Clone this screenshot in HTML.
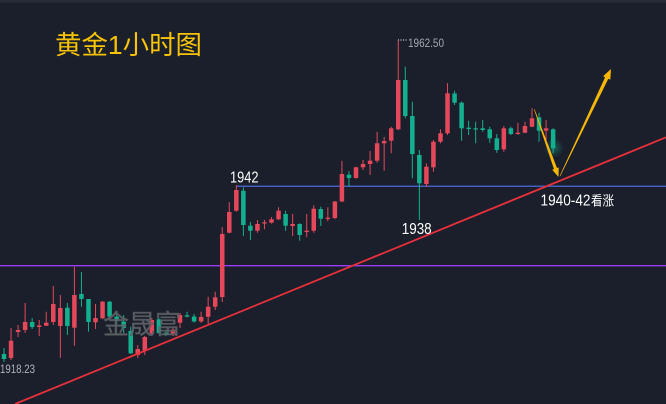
<!DOCTYPE html>
<html>
<head>
<meta charset="utf-8">
<style>
html,body{margin:0;padding:0;background:#1a1f2b;}
svg{display:block;}
text{font-family:"Liberation Sans","Noto Sans CJK SC",sans-serif;}
</style>
</head>
<body>
<svg width="666" height="404" viewBox="0 0 666 404" xmlns="http://www.w3.org/2000/svg">
<defs>
<radialGradient id="gl" cx="0.5" cy="0.5" r="0.5">
<stop offset="0" stop-color="#16c9a0" stop-opacity="0.35"/>
<stop offset="1" stop-color="#16c9a0" stop-opacity="0"/>
</radialGradient>
</defs>
<rect x="0" y="0" width="666" height="404" fill="#1a1f2b"/>
<rect x="0" y="0" width="666" height="2.5" fill="#262b36"/>

<line x1="0" y1="265.7" x2="666" y2="265.7" stroke="#9d3cf5" stroke-width="1.4"/>
<line x1="236" y1="186.2" x2="666" y2="186.2" stroke="#5473f5" stroke-width="1.2"/>

<path fill="none" stroke="#13b08f" stroke-width="1" d="M4 348V362M32.16 318V329M67.36 303V335M81.44 272V306.7M88.48 299V331.7M109.6 301V319M116.64 313V325M123.68 315V333M130.72 326.7V354M158.88 318V334M165.92 330V336M187.04 311.7V317.3M194.08 314V322.5M243.36 187.3V236M250.4 222V240M285.6 210.7V230.7M299.68 223.3V240.7M320.8 206.7V226M348.96 171.3V186.7M405.28 66.7V118.3M412.32 101.7V178.3M419.36 150V220M454.56 90.7V105M461.6 101.7V140.7M468.64 120.7V135M475.68 121.7V143.3M482.72 120V131.7M489.76 126.7V142.7M496.8 134V152.7M510.88 126.7V135M539.04 112.7V141.7M553.12 128.3V153.3"/>
<path fill="none" stroke="#e5485a" stroke-width="1" d="M11.04 328V360M18.08 325V337M25.12 303V333M39.2 320V336M46.24 311.7V326M53.28 286V325M60.32 295V358M74.4 266.7V345.7M95.52 304V329M102.56 301V319M137.76 345V358M144.8 336V355M151.84 318V336M172.96 328V336M180 313V328M201.12 311.7V322.7M208.16 296.7V325M215.2 291.7V310M222.24 227.3V302M229.28 202V233.3M236.32 185.3V211.7M257.44 220V232.7M264.48 220V229.3M271.52 217V223.5M278.56 207.3V220M292.64 214V236M306.72 214V237.3M313.76 205.3V232.7M327.84 207.3V221.3M334.88 201V219M341.92 160.7V202M356 166.7V178.5M363.04 160V170M370.08 151V175M377.12 131.7V162.7M384.16 136.7V170.7M391.2 126.7V153.3M398.24 40V130M426.4 163.3V186.7M433.44 140V171.7M440.48 129.3V143.3M447.52 83.3V135M503.84 126V151.7M517.92 122.7V135M524.96 121.7V133.3M532 108.3V127.3M546.08 120V140"/>

<circle cx="554" cy="148" r="10" fill="url(#gl)"/>

<g fill="#13b08f">
<rect x="1.75" y="354" width="4.5" height="5"/>
<rect x="29.91" y="322" width="4.5" height="5"/>
<rect x="65.11" y="307.7" width="4.5" height="18.3"/>
<rect x="79.19" y="294" width="4.5" height="5"/>
<rect x="86.23" y="299" width="4.5" height="23"/>
<rect x="107.35" y="301.7" width="4.5" height="15"/>
<rect x="114.39" y="316.7" width="4.5" height="4"/>
<rect x="121.43" y="321.7" width="4.5" height="6.3"/>
<rect x="128.47" y="331" width="4.5" height="22.3"/>
<rect x="156.63" y="319.3" width="4.5" height="13.7"/>
<rect x="163.67" y="332.7" width="4.5" height="2.3"/>
<rect x="184.79" y="315.3" width="4.5" height="1.4"/>
<rect x="191.83" y="316.5" width="4.5" height="5"/>
<rect x="241.11" y="190.7" width="4.5" height="34.3"/>
<rect x="248.15" y="225.7" width="4.5" height="5"/>
<rect x="283.35" y="214" width="4.5" height="11.7"/>
<rect x="297.43" y="224" width="4.5" height="11"/>
<rect x="318.55" y="209" width="4.5" height="9.7"/>
<rect x="346.71" y="174.7" width="4.5" height="3.3"/>
<rect x="403.03" y="80" width="4.5" height="36"/>
<rect x="410.07" y="116" width="4.5" height="38"/>
<rect x="417.11" y="155" width="4.5" height="28.3"/>
<rect x="452.31" y="93.5" width="4.5" height="9.2"/>
<rect x="459.35" y="102.7" width="4.5" height="25.6"/>
<rect x="466.39" y="127.7" width="4.5" height="1.3"/>
<rect x="473.43" y="128.3" width="4.5" height="1.2"/>
<rect x="480.47" y="128.3" width="4.5" height="1.7"/>
<rect x="487.51" y="129.3" width="4.5" height="9"/>
<rect x="494.55" y="138.3" width="4.5" height="11.7"/>
<rect x="508.63" y="128.3" width="4.5" height="5.7"/>
<rect x="536.79" y="117.3" width="4.5" height="13.4"/>
<rect x="550.87" y="129.3" width="4.5" height="19"/>
</g>

<g fill="#e5485a">
<rect x="8.79" y="340.7" width="4.5" height="17.3"/>
<rect x="15.83" y="330" width="4.5" height="2"/>
<rect x="22.87" y="322" width="4.5" height="8"/>
<rect x="36.95" y="325.5" width="4.5" height="1.5"/>
<rect x="43.99" y="322.7" width="4.5" height="3"/>
<rect x="51.03" y="304" width="4.5" height="18"/>
<rect x="58.07" y="308" width="4.5" height="18"/>
<rect x="72.15" y="295" width="4.5" height="32.7"/>
<rect x="93.27" y="318" width="4.5" height="4.3"/>
<rect x="100.31" y="301.7" width="4.5" height="16.6"/>
<rect x="135.51" y="349" width="4.5" height="6"/>
<rect x="142.55" y="337" width="4.5" height="13.7"/>
<rect x="149.59" y="320" width="4.5" height="14"/>
<rect x="170.71" y="329.5" width="4.5" height="4"/>
<rect x="177.75" y="315" width="4.5" height="7.7"/>
<rect x="198.87" y="317" width="4.5" height="4.5"/>
<rect x="205.91" y="306.7" width="4.5" height="10"/>
<rect x="212.95" y="297.3" width="4.5" height="9.4"/>
<rect x="219.99" y="234" width="4.5" height="63"/>
<rect x="227.03" y="212" width="4.5" height="20.7"/>
<rect x="234.07" y="190" width="4.5" height="20.7"/>
<rect x="255.19" y="224" width="4.5" height="6.7"/>
<rect x="262.23" y="222.3" width="4.5" height="1.2"/>
<rect x="269.27" y="219.3" width="4.5" height="3.4"/>
<rect x="276.31" y="210.7" width="4.5" height="8.6"/>
<rect x="290.39" y="224" width="4.5" height="2"/>
<rect x="304.47" y="230.7" width="4.5" height="1.3"/>
<rect x="311.51" y="208.7" width="4.5" height="22"/>
<rect x="325.59" y="217.7" width="4.5" height="1.3"/>
<rect x="332.63" y="201.5" width="4.5" height="16.5"/>
<rect x="339.67" y="174" width="4.5" height="27.5"/>
<rect x="353.75" y="167.3" width="4.5" height="10.7"/>
<rect x="360.79" y="164" width="4.5" height="3.3"/>
<rect x="367.83" y="160.7" width="4.5" height="3.3"/>
<rect x="374.87" y="143.3" width="4.5" height="17.4"/>
<rect x="381.91" y="141" width="4.5" height="2.3"/>
<rect x="388.95" y="128.3" width="4.5" height="12.4"/>
<rect x="395.99" y="80" width="4.5" height="49.3"/>
<rect x="424.15" y="166.7" width="4.5" height="17.3"/>
<rect x="431.19" y="141.7" width="4.5" height="25.6"/>
<rect x="438.23" y="133.3" width="4.5" height="8.4"/>
<rect x="445.27" y="93.3" width="4.5" height="40"/>
<rect x="501.59" y="128.3" width="4.5" height="21"/>
<rect x="515.67" y="132.7" width="4.5" height="1.3"/>
<rect x="522.71" y="126" width="4.5" height="6.7"/>
<rect x="529.75" y="118.3" width="4.5" height="8.4"/>
<rect x="543.83" y="128.3" width="4.5" height="2.4"/>
</g>

<text x="103" y="334" font-size="27" fill="#66696f" fill-opacity="0.85" stroke="#4a4d52" stroke-width="0.4" textLength="78" lengthAdjust="spacingAndGlyphs">金晟富</text>

<line x1="15" y1="404" x2="666" y2="137.3" stroke="#e8303c" stroke-width="1.8"/>

<polygon fill="#f9b800" points="534.02,109.40 553.96,169.07 552.17,169.71 558.5,177 558.77,167.35 556.98,167.99 534.58,109.20"/>
<polygon fill="#f9b800" points="560.27,176.13 608.33,78.80 610.31,79.75 611,69 603.09,76.31 605.07,77.26 559.73,175.87"/>

<line x1="398" y1="40" x2="407" y2="40" stroke="#8a8e96" stroke-width="2" stroke-dasharray="1,1.5"/>
<text x="408" y="47" font-size="11.5" fill="#a3a7ae" textLength="36" lengthAdjust="spacingAndGlyphs">1962.50</text>
<text x="0" y="373" font-size="11.5" fill="#b0b4ba" textLength="35" lengthAdjust="spacingAndGlyphs">1918.23</text>

<text x="55" y="54" font-size="26" fill="#f8c300" textLength="147" lengthAdjust="spacingAndGlyphs">黄金1小时图</text>
<text x="230" y="182.3" font-size="15.5" fill="#ffffff" textLength="28.5" lengthAdjust="spacingAndGlyphs">1942</text>
<text x="401.7" y="234" font-size="15.5" fill="#ffffff" textLength="30" lengthAdjust="spacingAndGlyphs">1938</text>
<text x="540.5" y="205.7" font-size="15.5" fill="#ffffff" textLength="50" lengthAdjust="spacingAndGlyphs">1940-42</text>
<text x="591" y="205.3" font-size="13.5" fill="#ffffff" textLength="23" lengthAdjust="spacingAndGlyphs">看涨</text>
</svg>
</body>
</html>
